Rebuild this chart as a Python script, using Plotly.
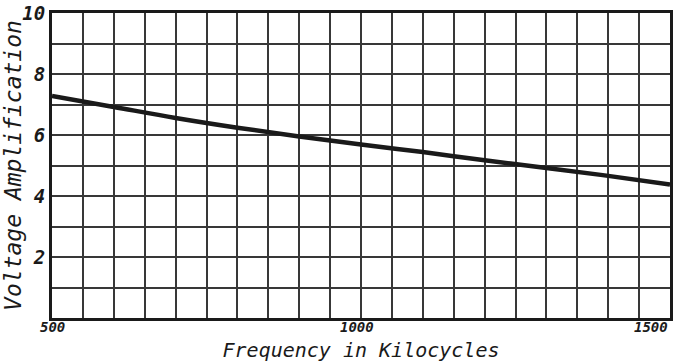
import plotly.graph_objs as go

# 100 kc steps
freq_kc = [500, 600, 700, 800, 900, 1000, 1100, 1200, 1300, 1400, 1500]
voltage_amp = [7.28, 6.92, 6.56, 6.24, 5.95, 5.69, 5.44, 5.17, 4.92, 4.66, 4.38]

x_tick_vals = [500, 1000, 1500]
x_tick_text = ["500", "1000", "1500"]
y_tick_vals = [2, 4, 6, 8, 10]
y_tick_text = ["2", "4", "6", "8", "10"]

FONT = "DejaVu Sans Mono"   # closest thing to the stencil lettering
INK = "#1a1a1a"
GRID = "#383838"

fig = go.Figure()
fig.add_trace(go.Scatter(x=freq_kc, y=voltage_amp, mode="lines",
                         line=dict(color=INK, width=4.5, shape="spline"),
                         showlegend=False, hoverinfo="skip"))

# x tick labels as annotations so the 1500 one stays inside the page
anchors = ["center", "center", "right"]
shifts = [0, -4, 0]
for v, t, a, s in zip(x_tick_vals, x_tick_text, anchors, shifts):
    fig.add_annotation(x=v, y=0, xref="x", yref="paper", text=t,
                       showarrow=False, xanchor=a, yanchor="top", yshift=1, xshift=s,
                       font=dict(family=FONT, size=14, color=INK, style="italic", weight="bold"))

fig.update_xaxes(range=[500, 1500], dtick=50, tick0=500, showticklabels=False,
                 showgrid=True, gridcolor=GRID, gridwidth=2,
                 showline=True, linecolor=INK, linewidth=3, mirror=True,
                 zeroline=False, ticks="", automargin=False,
                 title=dict(text="Frequency in Kilocycles", standoff=23,
                            font=dict(family=FONT, size=20, color=INK, style="italic")))
fig.update_yaxes(range=[0, 10], dtick=1, tick0=0,
                 tickmode="array", tickvals=y_tick_vals, ticktext=y_tick_text,
                 tickfont=dict(family=FONT, size=19, color=INK, style="italic", weight="bold"),
                 showgrid=True, gridcolor=GRID, gridwidth=2,
                 minor=dict(dtick=1, tick0=0, showgrid=True, gridcolor=GRID, gridwidth=2),
                 showline=True, linecolor=INK, linewidth=3, mirror=True,
                 zeroline=False, ticks="", automargin=False,
                 title=dict(text="Voltage Amplification", standoff=4,
                            font=dict(family=FONT, size=23, color=INK, style="italic")))

fig.update_layout(width=673, height=362,
                  margin=dict(l=52, r=3, t=13, b=44),
                  paper_bgcolor="white", plot_bgcolor="white",
                  font=dict(family=FONT, color=INK))

# drop the default body margin so the figure fills the window exactly
fig.write_html("out.html", config={"displayModeBar": False},
               post_script="document.body.style.margin='0';")
